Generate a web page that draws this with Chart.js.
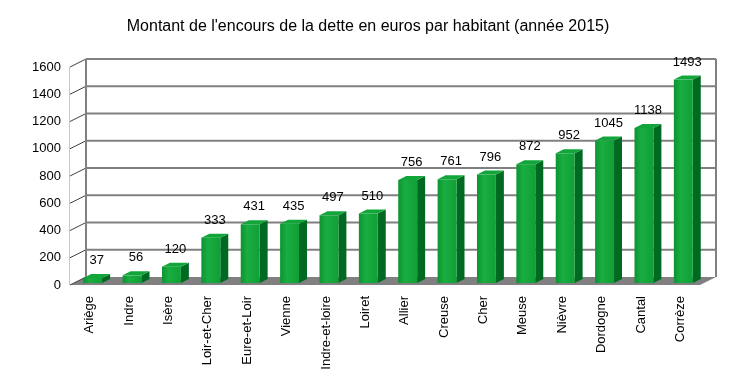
<!DOCTYPE html>
<html lang="fr">
<head>
    <meta charset="UTF-8">
    <title>Encours de la dette par habitant</title>
    <script src="https://cdn.jsdelivr.net/npm/chart.js"></script>
    <style>
        * { margin: 0; padding: 0; box-sizing: border-box; }
        body { background: #fff; width: 748px; height: 391px; overflow: hidden; }
        .wrap { position: relative; width: 748px; height: 391px; }
    </style>
</head>
<body>
    <div class="wrap">
        <canvas id="detteChart" width="748" height="391"></canvas>
    </div>

    <script>
        // data
        const departements = ['Ariège', 'Indre', 'Isère', 'Loir-et-Cher', 'Eure-et-Loir', 'Vienne',
            'Indre-et-loire', 'Loiret', 'Allier', 'Creuse', 'Cher', 'Meuse', 'Nièvre',
            'Dordogne', 'Cantal', 'Corrèze'];
        const encours = [37, 56, 120, 333, 431, 435, 497, 510, 756, 761, 796, 872, 952, 1045, 1138, 1493];
        const yTicks = [0, 200, 400, 600, 800, 1000, 1200, 1400, 1600];
        const titre = "Montant de l'encours de la dette en euros par habitant (année 2015)";

        const FONT = 'Liberation Sans, Arial, sans-serif';
        // depth of the 3d box (front plane -> back wall)
        const DEPTH_X = 16, DEPTH_Y = -8;
        // bar placed inside the depth
        const BAR_OFF_X = 3, BAR_OFF_Y = -2, BAR_DX = 8, BAR_DY = -4;

        // walls, floor and gridlines behind the bars
        const wallsPlugin = {
            id: 'walls',
            beforeDatasetsDraw(chart) {
                const ctx = chart.ctx;
                const area = chart.chartArea;
                const y = chart.scales.y;
                const y0 = y.getPixelForValue(0);
                const yTop = y.getPixelForValue(yTicks[yTicks.length - 1]);
                ctx.save();

                // floor
                ctx.fillStyle = '#808080';
                ctx.beginPath();
                ctx.moveTo(area.left, y0);
                ctx.lineTo(area.right, y0);
                ctx.lineTo(area.right + DEPTH_X, y0 + DEPTH_Y);
                ctx.lineTo(area.left + DEPTH_X, y0 + DEPTH_Y);
                ctx.closePath();
                ctx.fill();

                // left wall front edge
                ctx.strokeStyle = '#c8c8c8';
                ctx.lineWidth = 1;
                ctx.beginPath();
                ctx.moveTo(area.left - 0.5, yTop);
                ctx.lineTo(area.left - 0.5, y0);
                ctx.stroke();

                // diagonal ticks on the left wall
                ctx.strokeStyle = '#404040';
                yTicks.forEach(v => {
                    const py = y.getPixelForValue(v);
                    ctx.beginPath();
                    ctx.moveTo(area.left, py);
                    ctx.lineTo(area.left + DEPTH_X, py + DEPTH_Y);
                    ctx.stroke();
                });

                // gridlines on back wall
                ctx.strokeStyle = '#808080';
                ctx.lineWidth = 2;
                yTicks.forEach(v => {
                    if (v === 0) return;
                    const py = y.getPixelForValue(v) + DEPTH_Y;
                    ctx.beginPath();
                    ctx.moveTo(area.left + DEPTH_X, py);
                    ctx.lineTo(area.right + DEPTH_X, py);
                    ctx.stroke();
                });

                // back wall edges
                ctx.beginPath();
                ctx.moveTo(area.left + DEPTH_X, yTop + DEPTH_Y);
                ctx.lineTo(area.left + DEPTH_X, y0 + DEPTH_Y);
                ctx.moveTo(area.right + DEPTH_X, yTop + DEPTH_Y);
                ctx.lineTo(area.right + DEPTH_X, y0 + DEPTH_Y);
                ctx.stroke();
                ctx.restore();
            }
        };

        // 3d bars + value labels
        const barsPlugin = {
            id: 'bars3d',
            afterDatasetsDraw(chart) {
                const ctx = chart.ctx;
                const meta = chart.getDatasetMeta(0);
                ctx.save();
                meta.data.forEach((bar, i) => {
                    const p = bar.getProps(['x', 'y', 'base', 'width'], true);
                    const xl = p.x - p.width / 2 + BAR_OFF_X;
                    const xr = p.x + p.width / 2 + BAR_OFF_X;
                    const top = p.y + BAR_OFF_Y;
                    const bot = p.base + BAR_OFF_Y;

                    // side face
                    ctx.fillStyle = '#006a22';
                    ctx.beginPath();
                    ctx.moveTo(xr, top);
                    ctx.lineTo(xr + BAR_DX, top + BAR_DY);
                    ctx.lineTo(xr + BAR_DX, bot + BAR_DY);
                    ctx.lineTo(xr, bot);
                    ctx.closePath();
                    ctx.fill();

                    // top face
                    ctx.fillStyle = '#12a53a';
                    ctx.beginPath();
                    ctx.moveTo(xl, top);
                    ctx.lineTo(xl + BAR_DX, top + BAR_DY);
                    ctx.lineTo(xr + BAR_DX, top + BAR_DY);
                    ctx.lineTo(xr, top);
                    ctx.closePath();
                    ctx.fill();

                    // front face
                    const g = ctx.createLinearGradient(xl, 0, xr, 0);
                    g.addColorStop(0, '#0d9330');
                    g.addColorStop(0.35, '#19ad42');
                    g.addColorStop(1, '#10a035');
                    ctx.fillStyle = g;
                    ctx.fillRect(xl, top, xr - xl, bot - top);

                    // value label
                    ctx.fillStyle = '#000';
                    ctx.font = '13px ' + FONT;
                    ctx.textAlign = 'center';
                    ctx.textBaseline = 'alphabetic';
                    ctx.fillText(String(encours[i]), (xl + xr) / 2 + BAR_DX / 2, top + BAR_DY - 10);
                });
                ctx.restore();
            }
        };

        // title centred on the whole picture, not on the plot box
        const titlePlugin = {
            id: 'titre',
            afterDraw(chart) {
                const ctx = chart.ctx;
                ctx.save();
                ctx.fillStyle = '#000';
                ctx.font = '16px ' + FONT;
                ctx.textAlign = 'center';
                ctx.textBaseline = 'middle';
                ctx.fillText(titre, 368, 27);
                ctx.restore();
            }
        };

        const ctx = document.getElementById('detteChart').getContext('2d');
        const detteChart = new Chart(ctx, {
            type: 'bar',
            data: {
                labels: departements,
                datasets: [{
                    label: 'Encours',
                    data: encours,
                    backgroundColor: 'rgba(0,0,0,0)',
                    borderWidth: 0,
                    barPercentage: 0.48,
                    categoryPercentage: 1
                }]
            },
            options: {
                responsive: false,
                animation: false,
                layout: { padding: { left: 0, right: 48, top: 67, bottom: 0 } },
                plugins: {
                    legend: { display: false },
                    tooltip: { enabled: false },
                    title: { display: false }
                },
                scales: {
                    x: {
                        grid: { display: false, drawTicks: false },
                        border: { display: false },
                        ticks: {
                            color: '#000',
                            font: { family: FONT, size: 13 },
                            minRotation: 90,
                            maxRotation: 90,
                            autoSkip: false,
                            padding: 11
                        },
                        afterFit(scale) { scale.height = 106; }
                    },
                    y: {
                        min: 0,
                        max: 1600,
                        grid: { display: false, drawTicks: false },
                        border: { display: false },
                        ticks: {
                            stepSize: 200,
                            color: '#000',
                            font: { family: FONT, size: 13 },
                            padding: 9,
                            callback: v => String(v)
                        },
                        afterFit(scale) { scale.width = 70; }
                    }
                }
            },
            plugins: [wallsPlugin, barsPlugin, titlePlugin]
        });
    </script>
</body>
</html>
